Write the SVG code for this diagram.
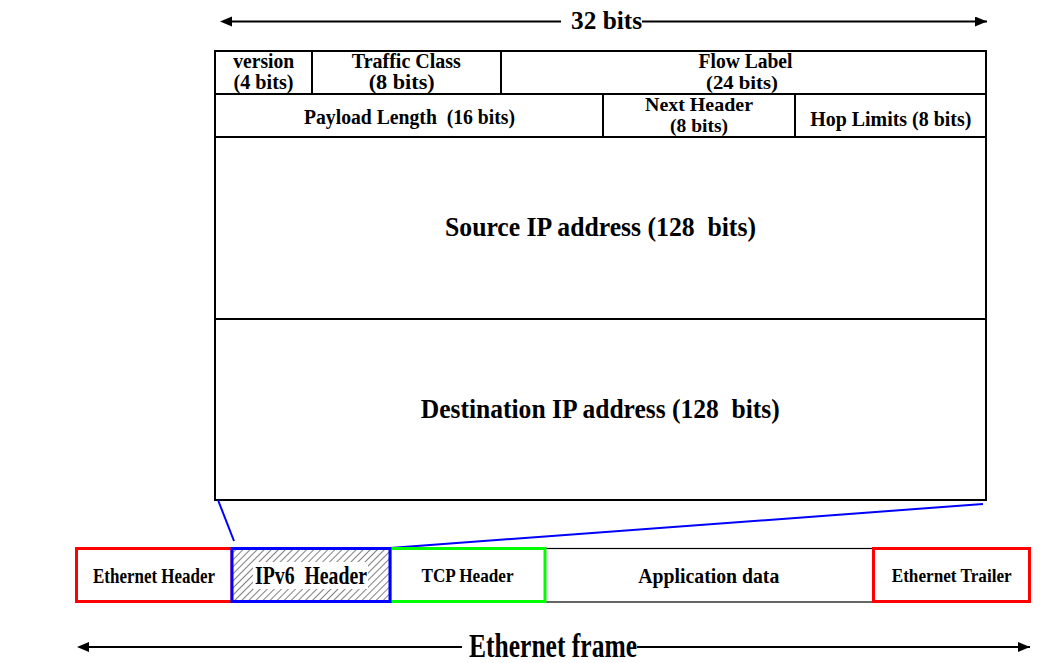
<svg xmlns="http://www.w3.org/2000/svg" width="1061" height="663" viewBox="0 0 1061 663">
<style>
text{font-family:"Liberation Serif","Times New Roman",serif;font-weight:bold;fill:#000;text-anchor:middle;white-space:pre}
.cell{fill:none;stroke:#000;stroke-width:2}
.f20{font-size:20.5px}
.f19{font-size:19.5px}
.big{font-size:27px}
</style>
<defs>
<pattern id="hatch" patternUnits="userSpaceOnUse" width="5" height="5" patternTransform="rotate(45)">
<rect width="5" height="5" fill="#fff"/>
<line x1="0" y1="0" x2="0" y2="5" stroke="#555" stroke-width="1.5"/>
</pattern>
<marker id="ah" markerWidth="12" markerHeight="10" refX="12" refY="5" orient="auto" markerUnits="userSpaceOnUse">
<path d="M0,0 L12,5 L0,10 Z" fill="#000"/>
</marker>
</defs>
<rect width="1061" height="663" fill="#fff"/>

<g id="ipv6-table">
<rect class="cell" x="215" y="51" width="771" height="449"/>
<line class="cell" x1="215" y1="94" x2="986" y2="94"/>
<line class="cell" x1="215" y1="137" x2="986" y2="137"/>
<line class="cell" x1="215" y1="319" x2="986" y2="319"/>
<line class="cell" x1="312" y1="51" x2="312" y2="94"/>
<line class="cell" x1="501" y1="51" x2="501" y2="94"/>
<line class="cell" x1="603" y1="94" x2="603" y2="137"/>
<line class="cell" x1="795" y1="94" x2="795" y2="137"/>
</g>

<g id="f-version"><text class="f20" x="263.7" y="67.5" textLength="61" lengthAdjust="spacingAndGlyphs">version</text><text class="f20" x="263.5" y="89.3" textLength="60" lengthAdjust="spacingAndGlyphs">(4 bits)</text></g>
<g id="f-traffic"><text class="f20" x="406.3" y="67.5" textLength="109" lengthAdjust="spacingAndGlyphs">Traffic Class</text><text class="f20" x="401.7" y="89.3" textLength="66" lengthAdjust="spacingAndGlyphs">(8 bits)</text></g>
<g id="f-flow"><text class="f20" x="745.5" y="67.5" textLength="94" lengthAdjust="spacingAndGlyphs">Flow Label</text><text class="f19" x="742" y="89" textLength="72" lengthAdjust="spacingAndGlyphs">(24 bits)</text></g>
<g id="f-payload"><text class="f20" x="409.5" y="124" textLength="211" lengthAdjust="spacingAndGlyphs">Payload Length  (16 bits)</text></g>
<g id="f-next"><text class="f19" x="699" y="110.5" textLength="108" lengthAdjust="spacingAndGlyphs">Next Header</text><text class="f19" x="699" y="132" textLength="58" lengthAdjust="spacingAndGlyphs">(8 bits)</text></g>
<g id="f-hop"><text class="f20" x="890.8" y="125.5" textLength="161" lengthAdjust="spacingAndGlyphs">Hop Limits (8 bits)</text></g>
<g id="f-src"><text class="big" x="600.5" y="236" textLength="311" lengthAdjust="spacingAndGlyphs">Source IP address (128  bits)</text></g>
<g id="f-dst"><text class="big" x="600.3" y="418" textLength="359" lengthAdjust="spacingAndGlyphs">Destination IP address (128  bits)</text></g>

<g id="bits-label">
<line x1="232" y1="21.5" x2="561" y2="21.5" stroke="#000" stroke-width="2"/>
<path d="M220,21.5 L232,16.5 L232,26.5 Z" fill="#000"/>
<line x1="642" y1="21.5" x2="987" y2="21.5" stroke="#000" stroke-width="2" marker-end="url(#ah)"/>
<text x="606.5" y="29.3" style="font-size:25px" textLength="71" lengthAdjust="spacingAndGlyphs">32 bits</text>
</g>

<g id="connectors">
<line x1="218" y1="500" x2="234" y2="541" stroke="#0000ff" stroke-width="2"/>
<line x1="390" y1="548" x2="983" y2="504" stroke="#0000ff" stroke-width="2"/>
</g>

<g id="app-data">
<rect x="545" y="548.5" width="328" height="53.5" fill="#fff" stroke="#000" stroke-width="1.2"/>
<text x="708.8" y="582.7" style="font-size:22px" textLength="141" lengthAdjust="spacingAndGlyphs">Application data</text>
</g>
<g id="eth-header">
<rect x="76.5" y="548.5" width="155.5" height="53" fill="#fff" stroke="#ff0000" stroke-width="3"/>
<text x="154" y="582.7" style="font-size:21px" textLength="122" lengthAdjust="spacingAndGlyphs">Ethernet Header</text>
</g>
<g id="tcp-header">
<rect x="390" y="548.5" width="155" height="53" fill="#fff" stroke="#00ff00" stroke-width="3"/>
<text x="467.5" y="582" style="font-size:19.5px" textLength="92" lengthAdjust="spacingAndGlyphs">TCP Header</text>
</g>
<g id="ipv6-header">
<rect x="232" y="548.5" width="158" height="53" fill="url(#hatch)" stroke="#0000ff" stroke-width="3"/>
<rect x="253" y="562" width="115" height="27" fill="#fff"/>
<text x="311" y="584" style="font-size:25px" textLength="112" lengthAdjust="spacingAndGlyphs">IPv6  Header</text>
</g>
<g id="eth-trailer">
<rect x="873.5" y="548.5" width="156" height="53" fill="#fff" stroke="#ff0000" stroke-width="3"/>
<text x="951.7" y="582" style="font-size:19.5px" textLength="120" lengthAdjust="spacingAndGlyphs">Ethernet Trailer</text>
</g>

<g id="frame-label">
<line x1="89" y1="647" x2="462" y2="647" stroke="#000" stroke-width="2"/>
<path d="M77,647 L89,642 L89,652 Z" fill="#000"/>
<line x1="637" y1="647" x2="1030" y2="647" stroke="#000" stroke-width="2" marker-end="url(#ah)"/>
<text x="553" y="657" style="font-size:33px" textLength="168" lengthAdjust="spacingAndGlyphs">Ethernet frame</text>
</g>
</svg>
